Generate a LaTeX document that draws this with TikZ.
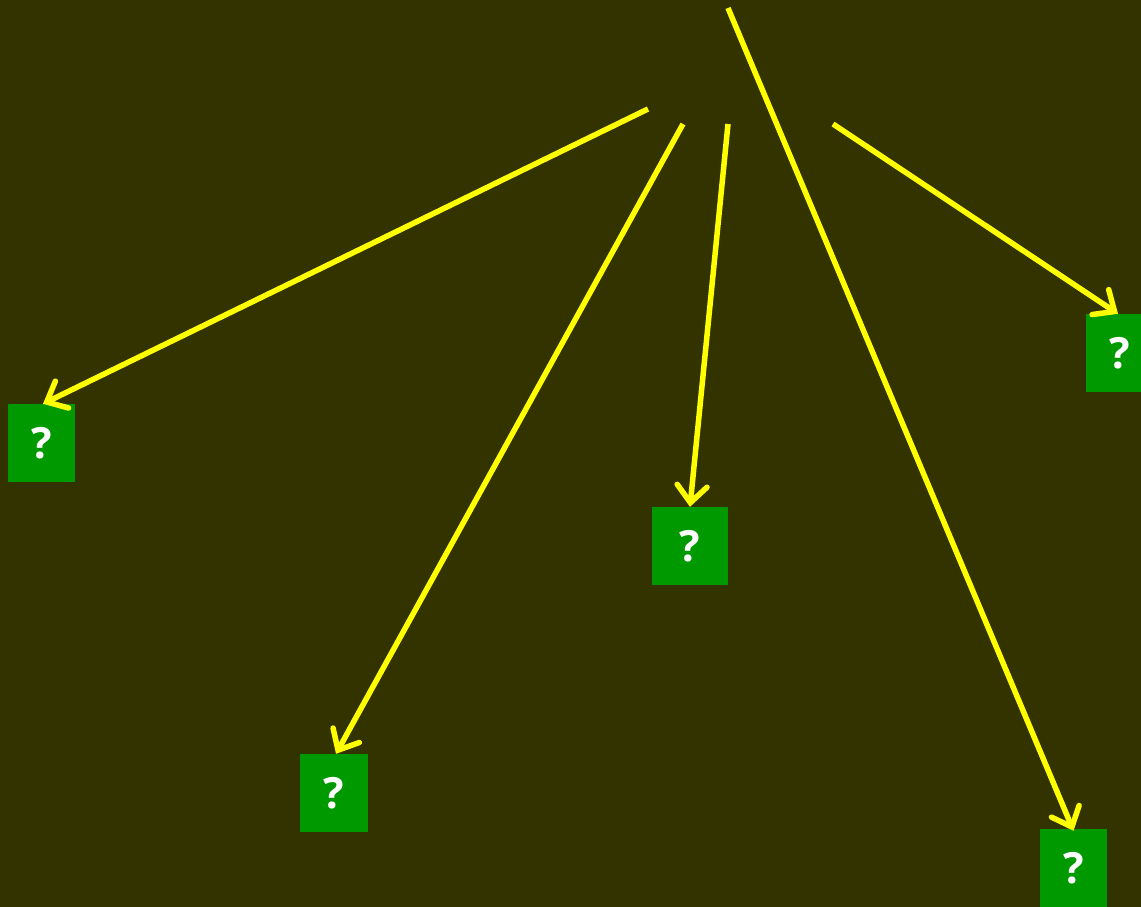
\documentclass[tikz,border=0pt]{standalone}
\usepackage{fontspec}
\newfontfamily\qfont{Open Sans}
\usetikzlibrary{arrows.meta}
\definecolor{bgc}{HTML}{333300}
\definecolor{boxc}{HTML}{009900}
\definecolor{linec}{HTML}{FFFF00}
\tikzset{
  qbox/.style={fill=boxc, inner sep=0pt, minimum height=78pt, text=white, font=\qfont\bfseries\fontsize{43}{43}\selectfont},
  link/.style={draw=linec, line width=5.5pt, -{Straight Barb[length=17pt,width=30pt,line cap=round]}}
}
\begin{document}
\begin{tikzpicture}[x=1pt,y=-1pt]
\fill[bgc] (0,0) rectangle (1141,907);
\useasboundingbox (0,0) rectangle (1141,907);
\clip (0,0) rectangle (1141,907);
\node[qbox, minimum width=67pt] (b1) at (41.5,443) {?};
\node[qbox, minimum width=67pt] (b2) at (1119.5,353) {?};
\node[qbox, minimum width=76pt] (b3) at (690,546) {?};
\node[qbox, minimum width=68pt] (b4) at (334,793) {?};
\node[qbox, minimum width=67pt] (b5) at (1073.5,868) {?};
\coordinate (s1) at (648,109);
\coordinate (s2) at (683,124);
\coordinate (s3) at (728,124);
\coordinate (s4) at (728,8);
\coordinate (s5) at (833,124);
\draw[link] (s1) -- ([xshift=1.5pt]b1.north);
\draw[link] (s2) -- ([xshift=2pt]b4.north);
\draw[link] (s3) -- (b3.north);
\draw[link] (s4) -- ([yshift=-2pt]b5.north);
\draw[link] (s5) -- ([xshift=-1.5pt]b2.north);
\end{tikzpicture}
\end{document}
